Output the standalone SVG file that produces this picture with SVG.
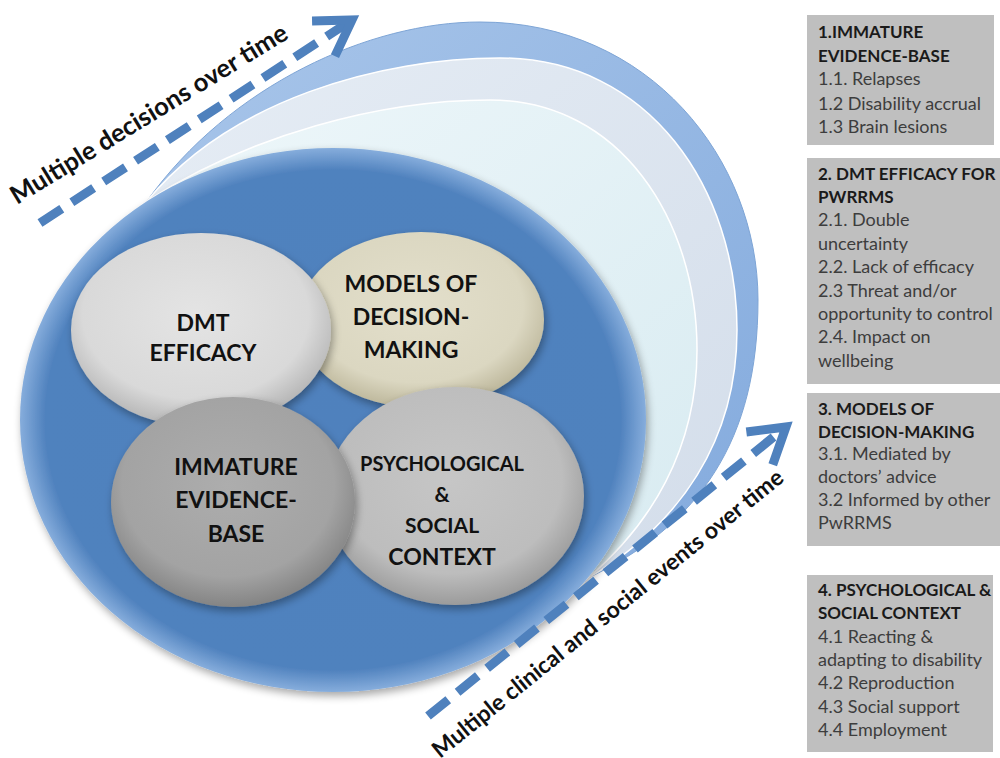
<svg xmlns="http://www.w3.org/2000/svg" width="1000" height="758" viewBox="0 0 1000 758">
<style>
.lbl{font-family:Lato,"Liberation Sans",sans-serif;font-weight:700;fill:#111;text-anchor:middle}
.bh{font-family:Lato,"Liberation Sans",sans-serif;font-weight:700;font-size:17px;fill:#1a1a1a}
.bt{font-family:Lato,"Liberation Sans",sans-serif;font-size:18px;fill:#3d3d3d}
.box{fill:#BFBFBF}
.arr{fill:none;stroke:#4F81BD;stroke-width:9;stroke-dasharray:26 12}
.atx{font-family:Lato,"Liberation Sans",sans-serif;font-weight:700;fill:#111}
</style>
<defs>
<marker id="head" markerUnits="userSpaceOnUse" markerWidth="60" markerHeight="60" viewBox="-45 -30 55 60" refX="0" refY="0" orient="auto">
<path d="M-34 -21 L0 0 L-34 21" fill="none" stroke="#4F81BD" stroke-width="9" stroke-linejoin="miter"/>
</marker>
<radialGradient id="gBlue" cx="50%" cy="50%" r="50%"><stop offset="0" stop-color="#4F81BD"/><stop offset="0.92" stop-color="#5082BE"/><stop offset="1" stop-color="#86ADDC"/></radialGradient>
<linearGradient id="gOuter" x1="0" y1="0" x2="1" y2="1"><stop offset="0" stop-color="#A9C6EA"/><stop offset="1" stop-color="#83AADD"/></linearGradient>
<linearGradient id="gGrey" x1="0" y1="0" x2="1" y2="1"><stop offset="0" stop-color="#E6EDF5"/><stop offset="1" stop-color="#D3DDEA"/></linearGradient>
<linearGradient id="gCyan" x1="0" y1="0" x2="1" y2="1"><stop offset="0" stop-color="#EEF7FA"/><stop offset="1" stop-color="#D8EBF1"/></linearGradient>
<radialGradient id="gDmt" cx="48%" cy="42%" r="58%"><stop offset="0" stop-color="#E4E4E4"/><stop offset="0.75" stop-color="#D9D9D9"/><stop offset="1" stop-color="#B5B5B5"/></radialGradient>
<radialGradient id="gMod" cx="48%" cy="42%" r="58%"><stop offset="0" stop-color="#E3DFCB"/><stop offset="0.75" stop-color="#DBD7C1"/><stop offset="1" stop-color="#BDB79B"/></radialGradient>
<radialGradient id="gImm" cx="48%" cy="42%" r="58%"><stop offset="0" stop-color="#ADADAD"/><stop offset="0.75" stop-color="#A3A3A3"/><stop offset="1" stop-color="#848484"/></radialGradient>
<radialGradient id="gPsy" cx="48%" cy="42%" r="58%"><stop offset="0" stop-color="#C6C6C6"/><stop offset="0.75" stop-color="#BDBDBD"/><stop offset="1" stop-color="#9B9B9B"/></radialGradient>
<filter id="sh" x="-15%" y="-15%" width="135%" height="140%">
<feGaussianBlur in="SourceAlpha" stdDeviation="4"/><feOffset dx="2" dy="4"/>
<feComponentTransfer><feFuncA type="linear" slope="0.35"/></feComponentTransfer>
<feMerge><feMergeNode/><feMergeNode in="SourceGraphic"/></feMerge>
</filter>
</defs>
<rect width="1000" height="758" fill="#FFFFFF"/>

<g id="layer-outer">
<path d="M147,201 C230,85 370,22 480,22 C650,22 758,160 758,300 C758,440 700,525 588,578 Z" fill="url(#gOuter)" stroke="#7EA5D6" stroke-width="1"/>
</g>
<g id="layer-grey">
<path d="M147,201 C230,100 380,58 500,58 C650,58 737,190 737,330 C737,440 680,525 588,578 Z" fill="url(#gGrey)" stroke="#FFFFFF" stroke-width="1.5"/>
</g>
<g id="layer-cyan">
<path d="M147,201 C250,135 380,100 490,100 C620,100 697,220 697,350 C697,450 650,525 588,578 Z" fill="url(#gCyan)" stroke="#FFFFFF" stroke-width="1.5"/>
</g>
<g id="main-disc">
<ellipse cx="333" cy="420" rx="313" ry="272" fill="url(#gBlue)" filter="url(#sh)"/>
</g>

<g id="node-models">
<ellipse cx="421" cy="320" rx="123" ry="88" fill="url(#gMod)" filter="url(#sh)"/>
<text class="lbl" font-size="23" x="411" y="292">MODELS OF</text>
<text class="lbl" font-size="23" x="411" y="325">DECISION-</text>
<text class="lbl" font-size="23" x="411" y="358">MAKING</text>
</g>
<g id="node-dmt">
<ellipse cx="201" cy="330" rx="130" ry="97" fill="url(#gDmt)" filter="url(#sh)"/>
<text class="lbl" font-size="23" x="203" y="331">DMT</text>
<text class="lbl" font-size="23" x="203" y="361">EFFICACY</text>
</g>
<g id="node-psych">
<ellipse cx="455" cy="496" rx="129" ry="109" fill="url(#gPsy)" filter="url(#sh)"/>
<text class="lbl" font-size="20" x="442" y="471">PSYCHOLOGICAL</text>
<text class="lbl" font-size="21" x="442" y="502">&amp;</text>
<text class="lbl" font-size="21" x="442" y="533">SOCIAL</text>
<text class="lbl" font-size="23" x="442" y="565">CONTEXT</text>
</g>
<g id="node-immature">
<ellipse cx="233" cy="502" rx="122" ry="105" fill="url(#gImm)" filter="url(#sh)"/>
<text class="lbl" font-size="23" x="236" y="475">IMMATURE</text>
<text class="lbl" font-size="23" x="236" y="508">EVIDENCE-</text>
<text class="lbl" font-size="23" x="236" y="542">BASE</text>
</g>

<g id="connectors">
<line class="arr" x1="40" y1="223" x2="352" y2="20" marker-end="url(#head)"/>
<line class="arr" x1="428" y1="716" x2="786" y2="427" marker-end="url(#head)"/>
</g>
<g id="arrow-labels">
<text class="atx" font-size="25.5" transform="translate(17,205) rotate(-31.5)">Multiple decisions over time</text>
<text class="atx" font-size="23" transform="translate(440,759) rotate(-38.9)">Multiple clinical and social events over time</text>
</g>

<g id="box1">
<rect class="box" x="807" y="15" width="187" height="130"/>
<text class="bh" x="818" y="38">1.IMMATURE</text>
<text class="bh" x="818" y="62">EVIDENCE-BASE</text>
<text class="bt" x="818" y="85">1.1. Relapses</text>
<text class="bt" x="818" y="110">1.2 Disability accrual</text>
<text class="bt" x="818" y="133">1.3 Brain lesions</text>
</g>
<g id="box2">
<rect class="box" x="807" y="158" width="193" height="226"/>
<text class="bh" x="818" y="180">2. DMT EFFICACY FOR</text>
<text class="bh" x="818" y="203">PWRRMS</text>
<text class="bt" x="818" y="226">2.1. Double</text>
<text class="bt" x="818" y="250">uncertainty</text>
<text class="bt" x="818" y="273">2.2. Lack of efficacy</text>
<text class="bt" x="818" y="297">2.3 Threat  and/or</text>
<text class="bt" x="818" y="320">opportunity to control</text>
<text class="bt" x="818" y="343">2.4. Impact on</text>
<text class="bt" x="818" y="367">wellbeing</text>
</g>
<g id="box3">
<rect class="box" x="807" y="393" width="193" height="153"/>
<text class="bh" x="818" y="415">3. MODELS OF</text>
<text class="bh" x="818" y="438">DECISION-MAKING</text>
<text class="bt" x="818" y="460">3.1. Mediated by</text>
<text class="bt" x="818" y="483">doctors’ advice</text>
<text class="bt" x="818" y="506">3.2 Informed by other</text>
<text class="bt" x="818" y="529">PwRRMS</text>
</g>
<g id="box4">
<rect class="box" x="807" y="575" width="186" height="177"/>
<text class="bh" x="818" y="596">4. PSYCHOLOGICAL &amp;</text>
<text class="bh" x="818" y="619">SOCIAL CONTEXT</text>
<text class="bt" x="818" y="643">4.1 Reacting &amp;</text>
<text class="bt" x="818" y="666">adapting to disability</text>
<text class="bt" x="818" y="689">4.2 Reproduction</text>
<text class="bt" x="818" y="713">4.3 Social support</text>
<text class="bt" x="818" y="736">4.4 Employment</text>
</g>
</svg>
